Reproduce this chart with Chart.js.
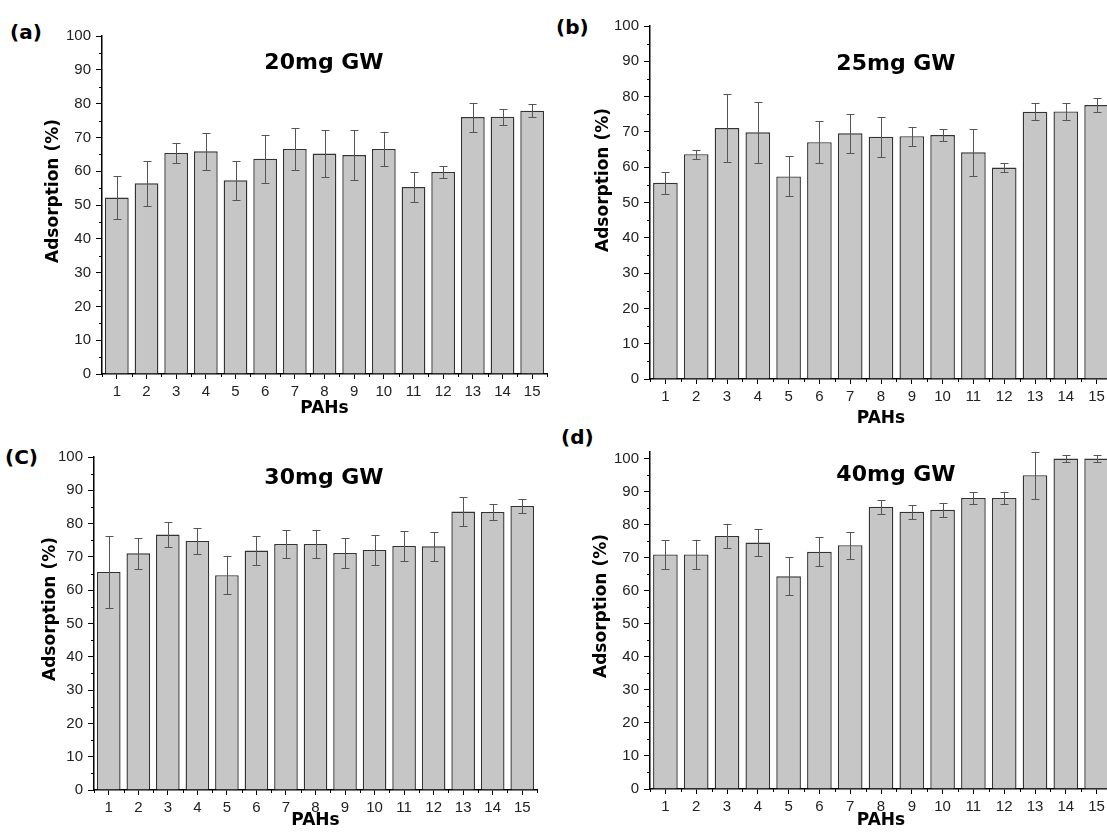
<!DOCTYPE html>
<html>
<head>
<meta charset="utf-8">
<script src="https://cdn.jsdelivr.net/npm/chart.js@4.4.1/dist/chart.umd.min.js"></script>
<style>
  html, body { margin: 0; padding: 0; background: #fff; }
  body { position: relative; width: 1107px; height: 832px; overflow: hidden; font-family: "Liberation Sans", Arial, sans-serif; }
  canvas { position: absolute; }
  .tag { position: absolute; font-family: "DejaVu Sans", sans-serif; font-weight: bold; font-size: 20px; line-height: 22px; color: #000; }
</style>
</head>
<body>
<div class="tag" style="left:10px; top:21px;">(a)</div>
<div class="tag" style="left:556px; top:16px;">(b)</div>
<div class="tag" style="left:5px; top:446px;">(C)</div>
<div class="tag" style="left:561px; top:426px;">(d)</div>

<canvas id="chartA" width="553" height="420" style="left:0; top:0;"></canvas>
<canvas id="chartB" width="600" height="430" style="left:553px; top:0;"></canvas>
<canvas id="chartC" width="553" height="412" style="left:0; top:420px;"></canvas>
<canvas id="chartD" width="600" height="412" style="left:553px; top:420px;"></canvas>

<script>
// PAH number on the x axis
const pahs = ["1", "2", "3", "4", "5", "6", "7", "8", "9", "10", "11", "12", "13", "14", "15"];

// adsorption (%) and error (+/-) for each GW dose
const gw20 = [52.2, 56.4, 65.4, 65.9, 57.3, 63.7, 66.6, 65.2, 64.8, 66.6, 55.3, 59.8, 76.0, 76.1, 77.9];
const gw20Err = [6.4, 6.6, 3.0, 5.4, 5.7, 7.1, 6.3, 7.0, 7.4, 5.0, 4.4, 1.7, 4.3, 2.3, 2.0];

const gw25 = [55.6, 63.7, 71.1, 69.9, 57.4, 67.1, 69.6, 68.6, 68.8, 69.1, 64.2, 59.9, 75.7, 75.8, 77.6];
const gw25Err = [3.1, 1.3, 9.5, 8.6, 5.7, 6.0, 5.6, 5.6, 2.7, 1.6, 6.6, 1.4, 2.4, 2.3, 2.0];

const gw30 = [65.5, 71.1, 76.7, 74.8, 64.5, 71.9, 73.9, 73.9, 71.2, 72.1, 73.3, 73.2, 83.6, 83.5, 85.3];
const gw30Err = [10.8, 4.7, 3.8, 4.0, 5.7, 4.4, 4.3, 4.3, 4.5, 4.4, 4.4, 4.4, 4.4, 2.3, 2.0];

const gw40 = [71.0, 71.0, 76.6, 74.6, 64.4, 71.8, 73.8, 85.4, 83.9, 84.5, 88.1, 88.1, 95.0, 100, 100];
const gw40Err = [4.5, 4.5, 3.7, 4.0, 5.7, 4.4, 4.1, 2.1, 2.2, 2.2, 1.8, 1.8, 7.1, 1.0, 1.0];

const FONT = "'Liberation Sans', Arial, sans-serif";
const BOLD = "'DejaVu Sans', sans-serif";

// error bars, minor ticks, panel title and y title
const extras = {
    id: "extras",
    afterDatasetsDraw(chart, args, opts) {
        const { ctx, scales: { x, y } } = chart;
        const meta = chart.getDatasetMeta(0);
        const vals = chart.data.datasets[0].data;
        ctx.save();
        ctx.strokeStyle = "#555";
        ctx.lineWidth = 1;
        opts.errors.forEach((e, i) => {
            const cx = Math.round(meta.data[i].x) + 0.5;
            const top = Math.round(y.getPixelForValue(Math.min(vals[i] + e, y.max))) + 0.5;
            const bot = Math.round(y.getPixelForValue(vals[i] - e)) + 0.5;
            ctx.beginPath();
            ctx.moveTo(cx, top); ctx.lineTo(cx, bot);
            ctx.moveTo(cx - 4, top); ctx.lineTo(cx + 4, top);
            ctx.moveTo(cx - 4, bot); ctx.lineTo(cx + 4, bot);
            ctx.stroke();
        });
        ctx.restore();
    },
    afterDraw(chart, args, opts) {
        const { ctx, scales: { x, y }, chartArea } = chart;
        ctx.save();
        ctx.strokeStyle = "#000";
        ctx.lineWidth = 1;
        ctx.beginPath();
        for (let v = 5; v < y.max; v += 10) {
            const py = Math.round(y.getPixelForValue(v)) + 0.5;
            ctx.moveTo(chartArea.left - 3, py); ctx.lineTo(chartArea.left, py);
        }
        for (let i = 0; i <= pahs.length; i++) {
            const px = Math.round(x.getPixelForValue(i - 0.5)) + 0.5;
            ctx.moveTo(px, chartArea.bottom); ctx.lineTo(px, chartArea.bottom + 3);
        }
        ctx.stroke();
        ctx.fillStyle = "#000";
        ctx.textAlign = "center";
        ctx.textBaseline = "middle";
        ctx.font = "bold 22px " + BOLD;
        ctx.fillText(opts.title, opts.tx, opts.ty);
        ctx.font = "bold 17px " + BOLD;
        ctx.translate(opts.ytx, opts.yty);
        ctx.rotate(-Math.PI / 2);
        ctx.fillText("Adsorption (%)", 0, 0);
        ctx.restore();
    }
};

function makeChart(id, values, errors, cfg) {
    return new Chart(document.getElementById(id), {
        type: "bar",
        data: {
            labels: pahs,
            datasets: [{
                data: values,
                backgroundColor: "#c6c6c6",
                borderColor: "#333",
                borderWidth: 1.4,
                barPercentage: 0.8,
                categoryPercentage: 1.0
            }]
        },
        options: {
            responsive: false,
            animation: false,
            devicePixelRatio: 1,
            layout: { padding: { left: 0, top: cfg.padTop, right: cfg.padRight, bottom: 0 } },
            plugins: {
                legend: { display: false },
                tooltip: { enabled: false },
                extras: { errors: errors, title: cfg.title, tx: cfg.tx, ty: cfg.ty, ytx: cfg.ytx, yty: cfg.yty }
            },
            scales: {
                x: {
                    offset: true,
                    grid: { display: true, offset: false, drawOnChartArea: false, tickLength: 5, tickColor: "#000" },
                    border: { display: true, color: "#000", width: 1.5 },
                    ticks: { color: "#222", font: { family: FONT, size: 15 }, padding: 4, maxRotation: 0, autoSkip: false },
                    title: { display: true, text: "PAHs", color: "#000", font: { family: BOLD, size: 17, weight: "bold" }, padding: { top: 0, bottom: 1 } },
                    afterFit(scale) { scale.height = cfg.xHeight; }
                },
                y: {
                    min: 0,
                    max: cfg.yMax,
                    afterBuildTicks(scale) { scale.ticks = scale.ticks.filter(t => t.value % 10 === 0); },
                    grid: { display: true, drawOnChartArea: false, tickLength: 6, tickColor: "#000" },
                    border: { display: true, color: "#000", width: 1.5 },
                    ticks: { stepSize: 10, includeBounds: false, color: "#222", font: { family: FONT, size: 15 }, padding: 5 },
                    afterFit(scale) { scale.width = cfg.yWidth; }
                }
            }
        },
        plugins: [extras]
    });
}

makeChart("chartA", gw20, gw20Err, { title: "20mg GW", tx: 324, ty: 63, ytx: 54, yty: 191, padTop: 36, padRight: 6, xHeight: 46, yWidth: 102, yMax: 100 });
makeChart("chartB", gw25, gw25Err, { title: "25mg GW", tx: 343, ty: 64, ytx: 51, yty: 180, padTop: 26, padRight: 41, xHeight: 51, yWidth: 97, yMax: 100 });
makeChart("chartC", gw30, gw30Err, { title: "30mg GW", tx: 324, ty: 58, ytx: 51, yty: 189, padTop: 37, padRight: 16, xHeight: 42, yWidth: 94, yMax: 100 });
makeChart("chartD", gw40, gw40Err, { title: "40mg GW", tx: 343, ty: 55, ytx: 49, yty: 186, padTop: 32, padRight: 41, xHeight: 43, yWidth: 97, yMax: 102 });
</script>
</body>
</html>
